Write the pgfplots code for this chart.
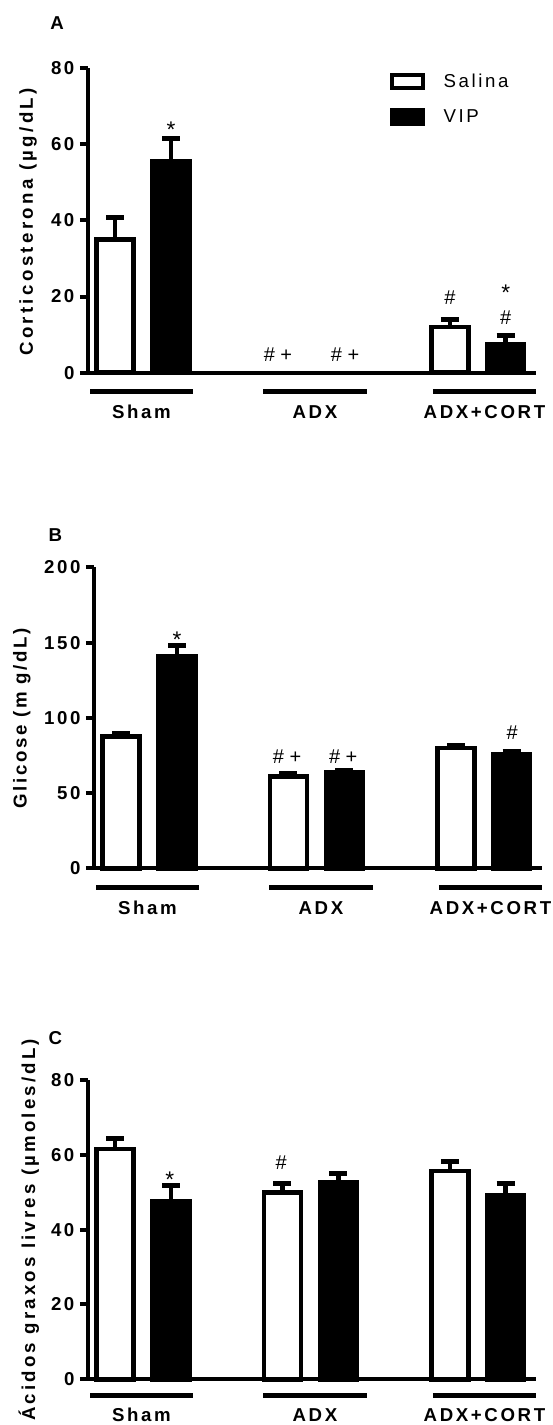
\documentclass[border=0pt]{standalone}
\usepackage{pgfplots}
\pgfplotsset{compat=1.18}
\usepackage{fontspec}
\setmainfont{Liberation Sans}
\newfontfamily\spf[LetterSpace=14]{Liberation Sans}
\newfontfamily\spfA[LetterSpace=18]{Liberation Sans}
\newfontfamily\spfC[LetterSpace=17]{Liberation Sans}
\newcommand\labfont{\spf\bfseries\fontsize{14}{16}\selectfont}
\newcommand\labfontA{\spfA\bfseries\fontsize{14}{16}\selectfont}
\newcommand\labfontC{\spfC\bfseries\fontsize{14}{16}\selectfont}
\newcommand\legfont{\spf\fontsize{14}{16}\selectfont}
\newcommand\annfont{\fontsize{15}{17}\selectfont}
\newcommand\starfont{\fontsize{17}{19}\selectfont}
\pgfplotsset{
 panel/.style={
  scale only axis, width=336pt, anchor=south west,
  axis lines=left, axis line style={line width=3pt, -},
  xmin=0.671, xmax=3.348, ymin=0,
  xtick={0.99,2.027,3.04}, xticklabels={Sham,ADX,ADX+CORT},
  xtick style={draw=none},
  ytick style={line width=3pt, black},
  tick align=outside, major tick length=6pt,
  ticklabel style={font=\labfont},
  yticklabel style={anchor=east, inner sep=0pt, xshift=-4pt},
  xticklabel style={anchor=base, inner sep=0pt},
  /pgf/number format/assume math mode=true,
  ylabel style={font=\labfont, anchor=center},
  clip=false,
  error bars/y dir=plus, error bars/y explicit,
  error bars/error mark=|,
  error bars/error bar style={line width=3.4pt, black},
  error bars/error mark options={line width=3.75pt, mark size=6.75pt, black},
 },
 sal/.style={ybar, bar width=0.221, bar shift=0, fill=white, draw=black, line width=3.4pt,
   legend image code/.code={\draw[#1, line width=3pt] (0pt,-5pt) rectangle (23pt,5pt);}},
 vip/.style={ybar, bar width=0.221, bar shift=0, fill=black, draw=black, line width=3.4pt,
   legend image code/.code={\draw[#1, line width=3pt] (0pt,-5pt) rectangle (23pt,5pt);}},
}
\begin{document}
\begin{tikzpicture}
\path[use as bounding box] (0,0) rectangle (414.75pt,1068.75pt);
% ---------- A ----------
\begin{axis}[panel, at={(66pt,789.2pt)}, height=228.5pt, ymax=80, ytick={0,20,...,80},
  xticklabel style={yshift=-28.5pt},
  ylabel={Corticosterona (µg/dL)},
  ylabel style={font=\labfontA, at={(axis description cs:-0.134,0.495)}},
  legend style={at={(axis description cs:0.674,0.99)}, anchor=north west, draw=none, fill=none,
    font=\legfont, inner sep=0pt, row sep=11pt,
    /tikz/every odd column/.append style={column sep=12pt}},
  legend cell align=left]
% Salina: Sham, ADX+CORT (ADX = 0)
\addplot[sal] coordinates {(0.833,35.0) +- (0,5.7) (2.833,12.0) +- (0,1.9)};
% VIP: Sham, ADX+CORT (ADX = 0)
\addplot[vip] coordinates {(1.167,55.6) +- (0,5.9) (3.167,7.35) +- (0,2.35)};
\legend{Salina,VIP}
\node[font=\starfont, anchor=base] at (axis cs:1.167,61.8) {*};
\node[font=\annfont, anchor=base] at (axis cs:2.833,17.8) {\#};
\node[font=\annfont, anchor=base] at (axis cs:3.167,12.6) {\#};
\node[font=\starfont, anchor=base] at (axis cs:3.167,19.0) {*};
\node[font=\annfont, anchor=base] at (axis cs:1.806,2.9) {\# +};
\node[font=\annfont, anchor=base] at (axis cs:2.207,2.9) {\# +};
\draw[line width=3.75pt] ([yshift=-13.95pt]axis cs:0.683,0) -- ([yshift=-13.95pt]axis cs:1.297,0);
\draw[line width=3.75pt] ([yshift=-13.95pt]axis cs:1.719,0) -- ([yshift=-13.95pt]axis cs:2.336,0);
\draw[line width=3.75pt] ([yshift=-13.95pt]axis cs:2.732,0) -- ([yshift=-13.95pt]axis cs:3.348,0);
\end{axis}
% ---------- B ----------
\begin{axis}[panel, at={(70.5pt,417.5pt)}, height=225.75pt, ymax=200, ytick={0,50,...,200},
  xticklabel style={yshift=-29pt},
  ylabel={Glicose (m g/dL)},
  ylabel style={at={(axis description cs:-0.161,0.499)}}]
\addplot[sal] coordinates {(0.833,87.5) +- (0,2.0) (1.833,61.0) +- (0,1.7) (2.833,80.0) +- (0,1.8)};
\addplot[vip] coordinates {(1.167,141.0) +- (0,7.0) (2.167,63.5) +- (0,1.5) (3.167,75.5) +- (0,1.8)};
\node[font=\starfont, anchor=base] at (axis cs:1.167,147.0) {*};
\node[font=\annfont, anchor=base] at (axis cs:1.825,69.8) {\# +};
\node[font=\annfont, anchor=base] at (axis cs:2.16,69.8) {\# +};
\node[font=\annfont, anchor=base] at (axis cs:3.17,85.4) {\#};
\draw[line width=3.75pt] ([yshift=-14.25pt]axis cs:0.683,0) -- ([yshift=-14.25pt]axis cs:1.297,0);
\draw[line width=3.75pt] ([yshift=-14.25pt]axis cs:1.719,0) -- ([yshift=-14.25pt]axis cs:2.336,0);
\draw[line width=3.75pt] ([yshift=-14.25pt]axis cs:2.732,0) -- ([yshift=-14.25pt]axis cs:3.348,0);
\end{axis}
% ---------- C ----------
\begin{axis}[panel, at={(66pt,34.3pt)}, height=224.5pt, ymax=80, ytick={0,20,...,80},
  xticklabel style={yshift=-26pt},
  ylabel={Ácidos graxos livres (µmoles/dL)},
  ylabel style={font=\labfontC, at={(axis description cs:-0.132,0.499)}}]
\addplot[sal] coordinates {(0.833,61.6) +- (0,2.8) (1.833,49.9) +- (0,2.3) (2.833,55.6) +- (0,2.7)};
\addplot[vip] coordinates {(1.167,47.6) +- (0,4.1) (2.167,52.6) +- (0,2.5) (3.167,49.2) +- (0,3.1)};
\node[font=\starfont, anchor=base] at (axis cs:1.16,51.3) {*};
\node[font=\annfont, anchor=base] at (axis cs:1.825,56.0) {\#};
\draw[line width=3.75pt] ([yshift=-12.3pt]axis cs:0.683,0) -- ([yshift=-12.3pt]axis cs:1.297,0);
\draw[line width=3.75pt] ([yshift=-12.3pt]axis cs:1.719,0) -- ([yshift=-12.3pt]axis cs:2.336,0);
\draw[line width=3.75pt] ([yshift=-12.3pt]axis cs:2.732,0) -- ([yshift=-12.3pt]axis cs:3.348,0);
\end{axis}
% panel letters
\node[font=\bfseries\fontsize{14}{16}\selectfont] at (42.75pt,1051.5pt) {A};
\node[font=\bfseries\fontsize{14}{16}\selectfont] at (41.6pt,667.5pt) {B};
\node[font=\bfseries\fontsize{14}{16}\selectfont] at (41.6pt,290.25pt) {C};
\end{tikzpicture}
\end{document}
